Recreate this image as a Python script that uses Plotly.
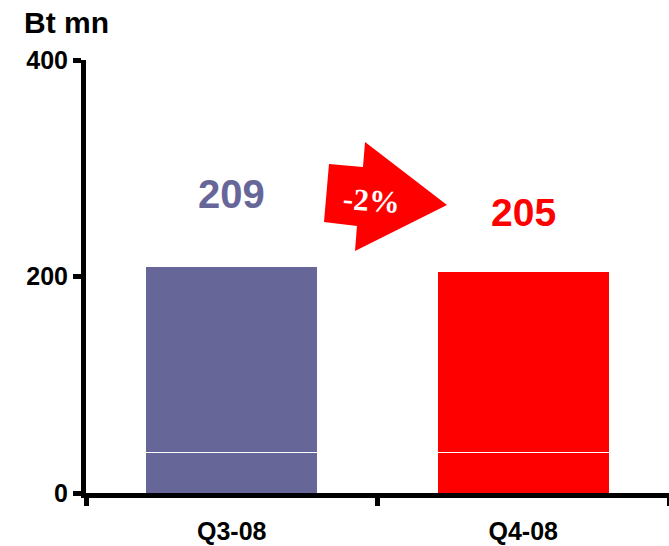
import plotly.graph_objects as go

quarters = ["Q3-08", "Q4-08"]
base_part = [37, 37]
top_part = [172, 168]
totals = [209, 205]
bar_colors = ["#666699", "#ff0000"]
change_label = "-2%"

W, H = 669, 546
# plot area in screen pixels
X0, X1, Y0, Y1 = 86, 669, 60, 493


def px_to_paper(x, y):
    return (x - X0) / (X1 - X0), (Y1 - y) / (Y1 - Y0)


fig = go.Figure()
fig.add_trace(go.Bar(x=quarters, y=base_part, marker=dict(color=bar_colors, line=dict(color="white", width=1)),
                     width=0.59, showlegend=False))
fig.add_trace(go.Bar(x=quarters, y=top_part, marker=dict(color=bar_colors, line=dict(color="white", width=1)),
                     width=0.59, showlegend=False))

# value labels above bars
fig.add_annotation(x=quarters[0], y=276, text=f"<b>{totals[0]}</b>", showarrow=False,
                   font=dict(size=40, color=bar_colors[0], family="Liberation Sans"))
fig.add_annotation(x=quarters[1], y=259, text=f"<b>{totals[1]}</b>", showarrow=False,
                   font=dict(size=39, color=bar_colors[1], family="Liberation Sans"))

# arrow block shape
pts = [(329, 164), (363, 167), (365, 142), (447, 205), (355, 251), (357, 226), (324, 222)]
path = "M " + " L ".join(f"{a:.4f},{b:.4f}" for a, b in (px_to_paper(*p) for p in pts)) + " Z"
fig.add_shape(type="path", path=path, xref="paper", yref="paper", fillcolor="#ff0000", line=dict(width=0))
ax, ay = px_to_paper(371, 201)
fig.add_annotation(x=ax, y=ay, xref="paper", yref="paper", xanchor="center", yanchor="middle",
                   text=f"<b>{change_label}</b>", showarrow=False, textangle=4,
                   font=dict(size=31, color="white", family="Liberation Serif"))

tx, ty = px_to_paper(22, 4)
fig.add_annotation(x=tx, y=ty, xref="paper", yref="paper", xanchor="left", yanchor="top",
                   text="<b>Bt mn</b>", showarrow=False, font=dict(size=30, color="black", family="Liberation Sans"))

fig.update_layout(
    width=W, height=H,
    margin=dict(l=X0, r=W - X1, t=Y0, b=H - Y1),
    barmode="stack", plot_bgcolor="white", paper_bgcolor="white",
    font=dict(family="Liberation Sans", color="black"),
    xaxis=dict(showline=True, linewidth=5, linecolor="black", ticks="outside", ticklen=8, tickwidth=5,
               tickcolor="black", tickson="boundaries", showgrid=False,
               tickfont=dict(size=25), ticklabelstandoff=12),
    yaxis=dict(range=[0, 400], tickvals=[0, 200, 400], ticktext=["<b>0</b>", "<b>200</b>", "<b>400</b>"],
               showline=True, linewidth=5, linecolor="black", ticks="outside", ticklen=8, tickwidth=5,
               tickcolor="black", showgrid=False, zeroline=False, tickfont=dict(size=25)),
)
fig.update_xaxes(ticktext=[f"<b>{q}</b>" for q in quarters], tickvals=quarters)

fig.write_html("out.html", config={"displayModeBar": False},
               post_script="document.body.style.margin='0';document.body.style.overflow='hidden';")
